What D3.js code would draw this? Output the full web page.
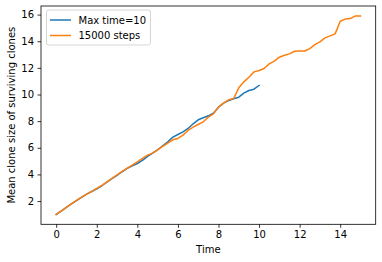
<!DOCTYPE html>
<html>
<head>
<meta charset="utf-8">
<script src="https://cdn.jsdelivr.net/npm/d3@7"></script>
<style>
body { margin: 0; background: #fff; }
svg { font-family: "DejaVu Sans", sans-serif; }
</style>
</head>
<body>
<svg></svg>
<script>
// simulation output, sampled every 0.25 time units
var timesA = [0,0.25,0.5,0.75,1,1.25,1.5,1.75,2,2.25,2.5,2.75,3,3.25,3.5,3.75,4,4.25,4.5,4.75,5,5.25,5.5,5.75,6,6.25,6.5,6.75,7,7.25,7.5,7.75,8,8.25,8.5,8.75,9,9.25,9.5,9.75,10];
var maxTime10 = [1.0,1.25,1.52,1.78,2.03,2.28,2.52,2.72,2.92,3.15,3.42,3.68,3.93,4.2,4.45,4.65,4.82,5.05,5.35,5.6,5.85,6.15,6.45,6.8,7.0,7.2,7.45,7.8,8.1,8.25,8.4,8.6,9.05,9.35,9.55,9.68,9.8,10.1,10.3,10.4,10.68];

var timesB = [0,0.25,0.5,0.75,1,1.25,1.5,1.75,2,2.25,2.5,2.75,3,3.25,3.5,3.75,4,4.25,4.5,4.75,5,5.25,5.5,5.75,6,6.25,6.5,6.75,7,7.25,7.5,7.75,8,8.25,8.5,8.75,9,9.25,9.5,9.75,10,10.25,10.5,10.75,11,11.25,11.5,11.75,12,12.25,12.5,12.75,13,13.25,13.5,13.75,14,14.25,14.5,14.75,15];
var steps15000 = [1.0,1.26,1.53,1.79,2.05,2.3,2.52,2.73,2.95,3.18,3.44,3.7,3.96,4.22,4.47,4.7,4.95,5.2,5.45,5.6,5.85,6.1,6.35,6.6,6.7,6.95,7.3,7.55,7.75,7.95,8.3,8.55,9.05,9.35,9.6,9.7,10.5,10.95,11.3,11.7,11.8,11.95,12.3,12.5,12.8,12.95,13.05,13.25,13.27,13.27,13.45,13.75,13.95,14.25,14.4,14.55,15.5,15.66,15.7,15.9,15.9];

var xTicks = [0,2,4,6,8,10,12,14];
var yTicks = [2,4,6,8,10,12,14,16];
var seriesNames = ["Max time=10", "15000 steps"];
var seriesColors = ["#1f77b4", "#ff7f0e"];

var svgWidth = 382, svgHeight = 262;
var plotLeft = 41, plotRight = 375.7, plotTop = 6, plotBottom = 224.3;

var svg = d3.select('svg')
    .attr("width", svgWidth)
    .attr("height", svgHeight);

var xScale = d3.scaleLinear().domain([-0.75, 15.75]).range([plotLeft, plotRight]);
var yScale = d3.scaleLinear().domain([0.255, 16.645]).range([plotBottom, plotTop]);

var line = d3.line()
    .x(function(d) { return xScale(d[0]); })
    .y(function(d) { return yScale(d[1]); });

var series = [d3.zip(timesA, maxTime10), d3.zip(timesB, steps15000)];

svg.selectAll("path.series")
    .data(series)
    .enter()
    .append("path")
    .attr("class", "series")
    .attr("d", line)
    .attr("fill", "none")
    .attr("stroke", function(d, i) { return seriesColors[i]; })
    .attr("stroke-width", 1.5)
    .attr("stroke-linejoin", "round")
    .attr("stroke-linecap", "square");

// axes
var xAxis = svg.append("g")
    .attr("transform", "translate(0," + plotBottom + ")")
    .call(d3.axisBottom(xScale).tickValues(xTicks).tickSize(3.5).tickPadding(3.5).tickFormat(d3.format("d")));
var yAxis = svg.append("g")
    .attr("transform", "translate(" + plotLeft + ",0)")
    .call(d3.axisLeft(yScale).tickValues(yTicks).tickSize(3.5).tickPadding(3.5).tickFormat(d3.format("d")));

[xAxis, yAxis].forEach(function(g) {
    g.select(".domain").remove();
    g.selectAll("text").attr("font-size", 10).attr("fill", "#000").attr("font-family", "DejaVu Sans");
    g.selectAll("line").attr("stroke", "#000").attr("stroke-width", 0.8);
});

// frame
svg.append("rect")
    .attr("x", plotLeft).attr("y", plotTop)
    .attr("width", plotRight - plotLeft).attr("height", plotBottom - plotTop)
    .attr("fill", "none").attr("stroke", "#000").attr("stroke-width", 0.8);

svg.append("text")
    .attr("x", (plotLeft + plotRight) / 2)
    .attr("y", 253)
    .attr("text-anchor", "middle")
    .attr("font-size", 10)
    .text("Time");

svg.append("text")
    .attr("transform", "translate(15," + ((plotTop + plotBottom) / 2) + ") rotate(-90)")
    .attr("text-anchor", "middle")
    .attr("font-size", 10)
    .text("Mean clone size of surviving clones");

// legend
var legend = svg.append("g");
legend.append("rect")
    .attr("x", 46.5).attr("y", 10)
    .attr("width", 104).attr("height", 35)
    .attr("rx", 2)
    .attr("fill", "#fff").attr("fill-opacity", 0.8)
    .attr("stroke", "#ccc").attr("stroke-width", 0.8);

var rows = legend.selectAll("g.row")
    .data(seriesNames)
    .enter()
    .append("g")
    .attr("class", "row")
    .attr("transform", function(d, i) { return "translate(0," + (20 + i * 15.5) + ")"; });
rows.append("line")
    .attr("x1", 50).attr("x2", 71)
    .attr("stroke", function(d, i) { return seriesColors[i]; })
    .attr("stroke-width", 1.5);
rows.append("text")
    .attr("x", 78.5).attr("y", 3.5)
    .attr("font-size", 10)
    .text(function(d) { return d; });
</script>
</body>
</html>
